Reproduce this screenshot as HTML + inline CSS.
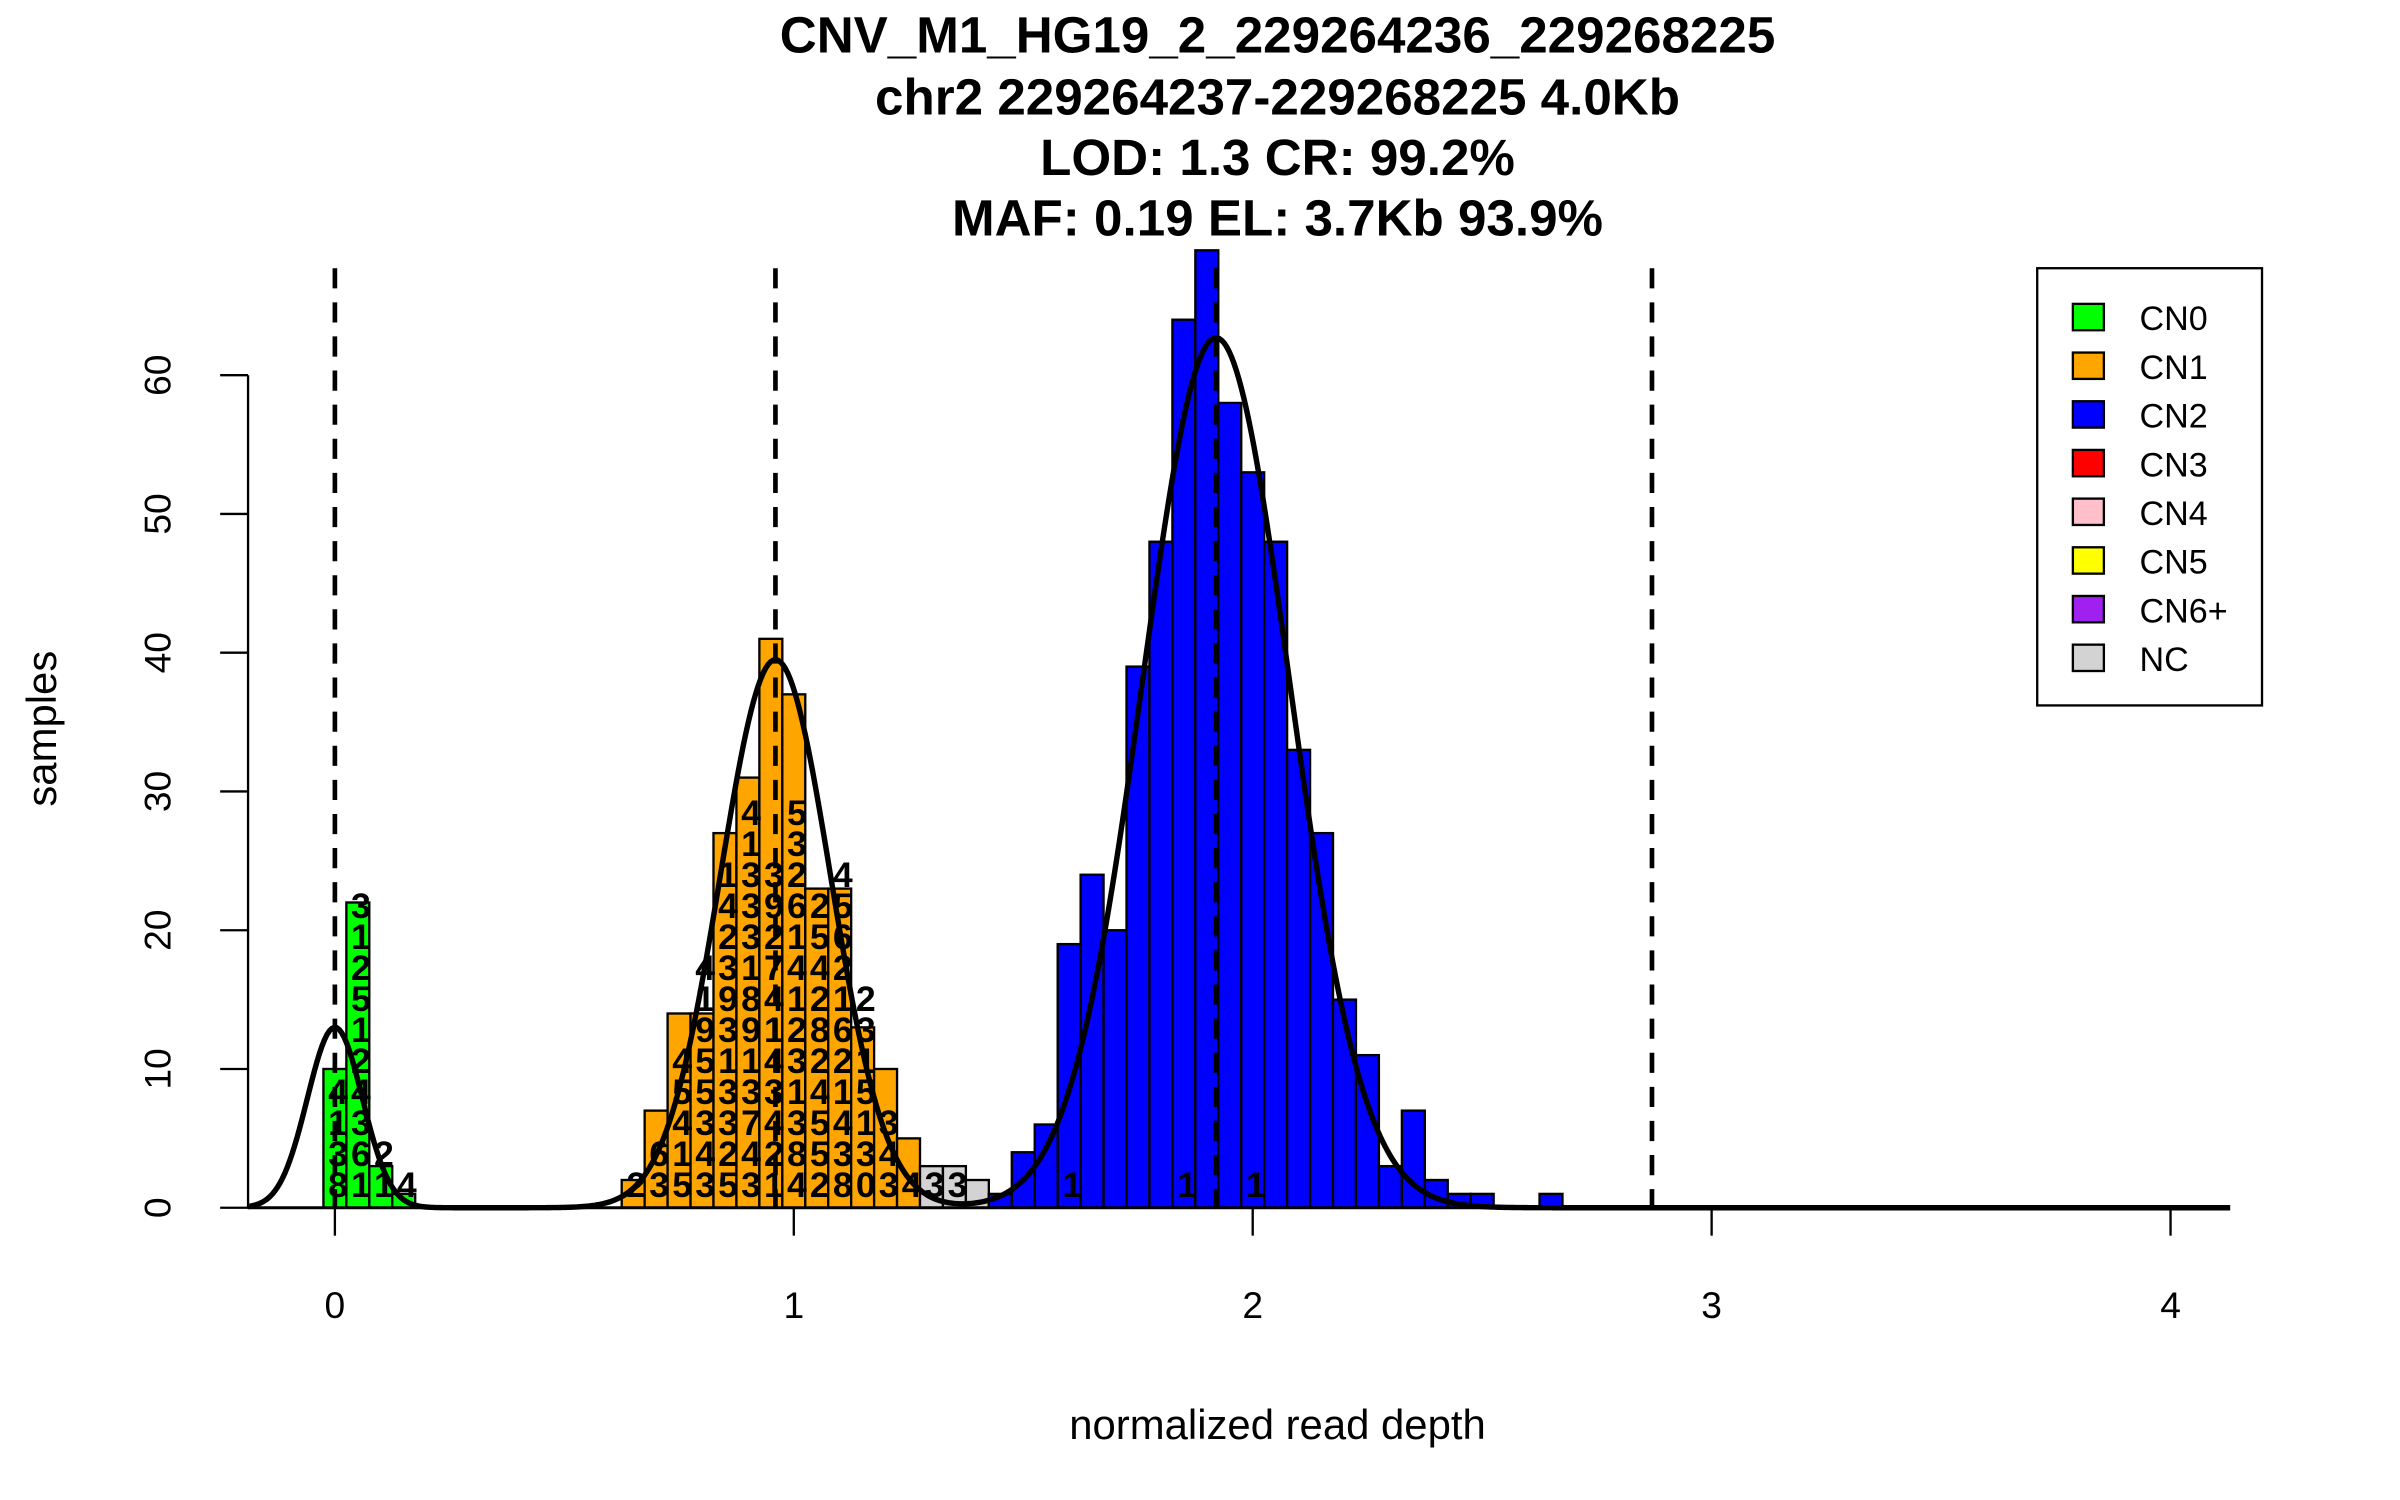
<!DOCTYPE html>
<html><head><meta charset="utf-8"><style>
html,body{margin:0;padding:0;background:#fff;}
svg{display:block;}
text{font-family:"Liberation Sans",sans-serif;}
</style></head><body>
<svg id="chart" width="2400" height="1500" viewBox="0 0 1548 967.5" preserveAspectRatio="none" xmlns="http://www.w3.org/2000/svg">
<g font-weight="bold" font-size="33" text-anchor="middle">
<text x="824" y="34">CNV_M1_HG19_2_229264236_229268225</text>
<text x="824" y="74">chr2 229264237-229268225 4.0Kb</text>
<text x="824" y="113">LOD: 1.3 CR: 99.2%</text>
<text x="824" y="152">MAF: 0.19 EL: 3.7Kb 93.9%</text>
</g>
<g id="bars"></g>
<g id="barlabels" font-weight="bold" font-size="23" text-anchor="middle"></g>
<g id="dash"></g>
<path id="curve" fill="none" stroke="#000" stroke-width="3.5"/>
<g id="xaxis"></g>
<g id="yaxis"></g>
<text x="824" y="928" font-size="27" text-anchor="middle">normalized read depth</text>
<text x="0" y="0" font-size="27" text-anchor="middle" transform="translate(36,470) rotate(-90)">samples</text>
<g id="legend"></g>
</svg>
<script>
const binWidth = 0.05;
const cn0Centers = [0.0, 0.05, 0.10, 0.15];
const cn0Counts = [10, 22, 3, 1];
const cn1Centers = [0.65,0.70,0.75,0.80,0.85,0.90,0.95,1.00,1.05,1.10,1.15,1.20,1.25];
const cn1Counts = [2,7,14,14,27,31,41,37,23,23,13,10,5];
const ncCenters = [1.30,1.35,1.40];
const ncCounts = [3,3,2];
const cn2Centers = [1.45,1.50,1.55,1.60,1.65,1.70,1.75,1.80,1.85,1.90,1.95,2.00,2.05,2.10,2.15,2.20,2.25,2.30,2.35,2.40,2.45,2.50,2.55,2.60,2.65];
const cn2Counts = [1,4,6,19,24,20,39,48,64,69,58,53,48,33,27,15,11,3,7,2,1,1,0,0,1];
const thresholds = [0, 0.96, 1.92, 2.87];
const mixMeans = [0, 0.96, 1.92];
const mixPeaks = [13, 39.5, 62.7];
const mixSds = [0.06, 0.12, 0.16];
const xTicks = [0,1,2,3,4];
const yTicks = [0,10,20,30,40,50,60];
const legendLabels = ["CN0","CN1","CN2","CN3","CN4","CN5","CN6+","NC"];
const legendColors = ["#00ff00","#ffa500","#0000ff","#ff0000","#ffc0cb","#ffff00","#a020f0","#d3d3d3"];
const barLabelCenters = [0.0,0.05,0.10,0.15,0.65,0.70,0.75,0.80,0.85,0.90,0.95,1.00,1.05,1.10,1.15,1.20,1.25,1.30,1.35,1.60,1.85,2.00];
const barLabelTexts = ["8314","1634215213","12","4","2","36","51454","34355914","52331393241","3473198133314","12434147293","4831321416235","2554282452","83412612654","0315132","343","4","3","3","1","1","1"];

const NS = "http://www.w3.org/2000/svg";
const X = v => 216 + 296 * v;
const Y = v => 779 - 8.95 * v;
function mk(tag, attrs, parent){ const e=document.createElementNS(NS,tag); for(const k in attrs) e.setAttribute(k,attrs[k]); parent.appendChild(e); return e; }

const bars = document.getElementById('bars');
function drawBars(centers, counts, color, name){
  centers.forEach((c,i)=>{
    const x0 = X(c - binWidth/2), x1 = X(c + binWidth/2);
    const r = mk('rect',{x:x0,y:Y(counts[i]),width:x1-x0,height:Y(0)-Y(counts[i]),fill:color,stroke:'#000','stroke-width':1.5},bars);
    
    
  });
}
drawBars(cn0Centers, cn0Counts, '#00ff00', 'cn0');
drawBars(cn1Centers, cn1Counts, '#ffa500', 'cn1');
drawBars(ncCenters, ncCounts, '#d3d3d3', 'nc');
drawBars(cn2Centers, cn2Counts, '#0000ff', 'cn2');

const bl = document.getElementById('barlabels');
barLabelCenters.forEach((c,i)=>{
  const s = barLabelTexts[i];
  for(let k=0;k<s.length;k++){
    const t = mk('text',{x:X(c)+2,y:772 - k*20},bl);
    
    
    t.textContent = s[k];
  }
});

const dash = document.getElementById('dash');
thresholds.forEach(v=>{
  const l = mk('line',{x1:X(v),x2:X(v),y1:173,y2:779,stroke:'#000','stroke-width':3,'stroke-dasharray':'13,9'},dash);
  
  
});

let d = '';
for(let i=0;i<=800;i++){
  const v = -0.19 + i*(4.13+0.19)/800;
  let y = 0;
  for(let j=0;j<mixMeans.length;j++){ const z=(v-mixMeans[j])/mixSds[j]; y += mixPeaks[j]*Math.exp(-0.5*z*z); }
  d += (i?'L':'M') + X(v).toFixed(2) + ',' + Y(y).toFixed(2);
}
document.getElementById('curve').setAttribute('d', d);

const xa = document.getElementById('xaxis');
mk('line',{x1:X(-0.19),x2:1437,y1:779,y2:779,stroke:'#000','stroke-width':2},xa);
xTicks.forEach(v=>{
  const l = mk('line',{x1:X(v),x2:X(v),y1:779,y2:797,stroke:'#000','stroke-width':1.5},xa);
  
  
  const t = mk('text',{x:X(v),y:850,'font-size':24,'text-anchor':'middle'},xa);
  
  
  t.textContent = v;
});
const ya = document.getElementById('yaxis');
mk('line',{x1:160,x2:160,y1:Y(0),y2:Y(60),stroke:'#000','stroke-width':1.5},ya);
yTicks.forEach(v=>{
  const l = mk('line',{x1:142,x2:160,y1:Y(v),y2:Y(v),stroke:'#000','stroke-width':1.5},ya);
  
  
  const t = mk('text',{x:0,y:0,'font-size':24,'text-anchor':'middle',transform:`translate(110,${Y(v)}) rotate(-90)`},ya);
  
  
  t.textContent = v;
});

const lg = document.getElementById('legend');
mk('rect',{x:1314,y:173,width:145,height:282,fill:'#fff',stroke:'#000','stroke-width':1.5},lg);
legendLabels.forEach((lab,i)=>{
  const cy = 205 + i*31.4;
  const r = mk('rect',{x:1337,y:cy-9,width:20,height:17,fill:legendColors[i],stroke:'#000','stroke-width':1.5},lg);
  
  
  const t = mk('text',{x:1380,y:cy+8,'font-size':22},lg);
  
  
  t.textContent = lab;
});
</script>
</body></html>
